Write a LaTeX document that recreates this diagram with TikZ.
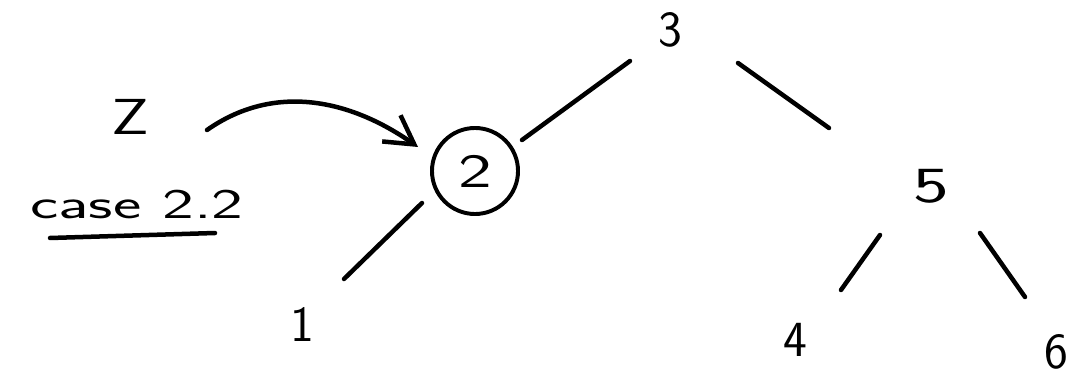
\documentclass[tikz,border=0pt]{standalone}
\usetikzlibrary{arrows.meta}
\begin{document}
\begin{tikzpicture}[x=0.025cm, y=-0.025cm, line width=3.2pt, line cap=round,
    every node/.style={font=\sffamily\fontsize{36}{40}\selectfont, inner sep=0pt},
    key/.style={draw, circle, minimum size=2.15cm, line width=2.8pt}]
    \useasboundingbox (0,0) rectangle (1074,381);
    \node (n3) at (670,30) {3};
    \node[key, font=\sffamily\fontsize{34}{36}\selectfont] (n2) at (475,171) {\scalebox{1.5}[1]{2}};
    \node[transform shape, xscale=1.5] (n5) at (931,186) {5};
    \node (n1) at (302,324) {1};
    \node (n4) at (795,340) {4};
    \node (n6) at (1056,352) {6};
    \node[transform shape, xscale=1.3] (z) at (130,117) {Z};
    \node[font=\sffamily\fontsize{30}{32}\selectfont, transform shape, xscale=1.6] (case) at (137,204) {case 2.2};
    \foreach \a/\da/\b/\db in {n3/{(-40,31)}/n2/{(47,-31)}, n3/{(68,33)}/n5/{(-102,-58)},
        n2/{(-53,32)}/n1/{(42,-45)}, n5/{(-51,49)}/n4/{(46,-50)}, n5/{(49,47)}/n6/{(-31,-55)}}
        \draw ([shift={\da}]\a.center) -- ([shift={\db}]\b.center);
    \draw[-{Straight Barb[length=7mm, width=8mm]}] ([shift={(77,13)}]z.center)
        to[out=35, in=145] ([shift={(-57,-24)}]n2.center);
    \draw ([shift={(-87,34)}]case.center) -- ([shift={(78,29)}]case.center);
\end{tikzpicture}
\end{document}
